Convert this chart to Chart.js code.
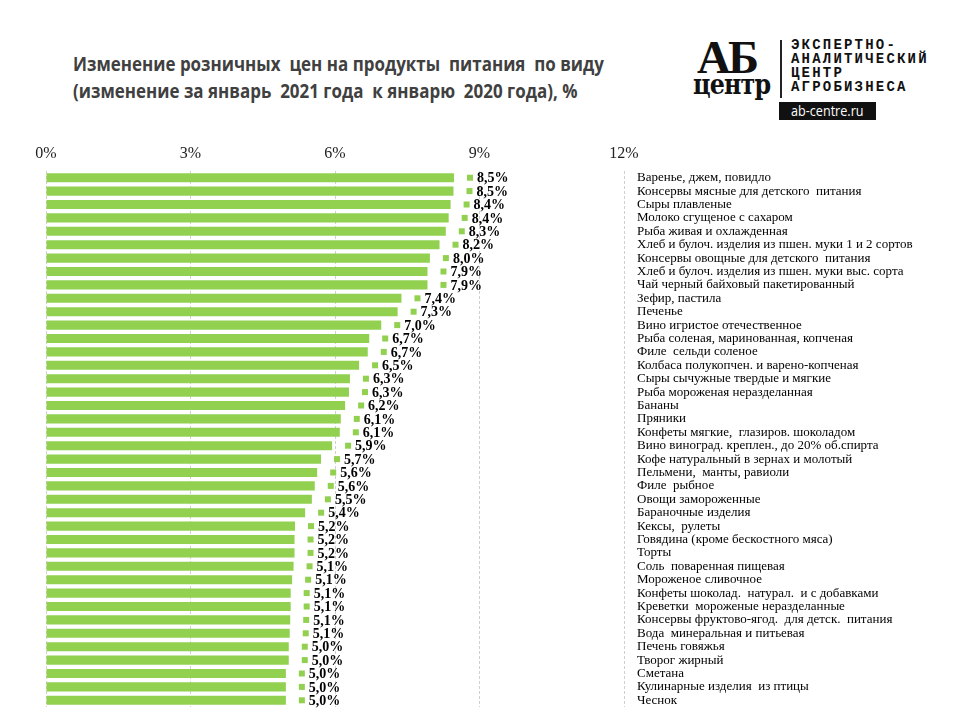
<!DOCTYPE html>
<html>
<head>
<meta charset="utf-8">
<script src="https://cdn.jsdelivr.net/npm/chart.js@4/dist/chart.umd.min.js"></script>
<style>
  body { margin: 0; width: 960px; height: 720px; background: #fff; position: relative; overflow: hidden; }
  #title { position: absolute; left: 73px; top: 51px; font-family: "Open Sans", sans-serif; font-weight: bold; font-size: 19px; line-height: 27px; color: #404040; white-space: pre; transform: scaleX(0.893); transform-origin: left top; }
  #logo { position: absolute; left: 690px; top: 36px; width: 250px; height: 88px; }
  #logo .ab { position: absolute; left: 7px; top: -6px; font-family: "Liberation Serif", serif; font-weight: bold; font-size: 47px; letter-spacing: -3px; color: #111; }
  #logo .centr { position: absolute; left: 3px; top: 32px; font-family: "DejaVu Serif", serif; font-weight: bold; font-size: 28px; letter-spacing: -1px; color: #111; transform: scaleX(0.85); transform-origin: left; }
  #logo .bar { position: absolute; left: 90px; top: 4px; width: 2px; height: 58px; background: #222; }
  #logo .txt { position: absolute; left: 101px; top: 2px; font-family: "Liberation Mono", monospace; font-weight: bold; font-size: 14px; line-height: 14px; letter-spacing: 2.2px; color: #111; }
  #logo .site { position: absolute; left: 89px; top: 66px; width: 97px; height: 18px; background: #111; color: #fff; font-family: "Open Sans", sans-serif; font-size: 14px; line-height: 18px; text-align: center; }
  #logo .site span { display: inline-block; transform: scaleX(0.9); }
  #wrap { position: absolute; left: 0; top: 130px; width: 960px; height: 590px; }
</style>
</head>
<body>
<div id="title">Изменение розничных  цен на продукты  питания  по виду
(изменение за январь  2021 года  к январю  2020 года), %</div>
<div id="logo">
  <div class="ab">АБ</div>
  <div class="centr">центр</div>
  <div class="bar"></div>
  <div class="txt">ЭКСПЕРТНО-<br>АНАЛИТИЧЕСКИЙ<br>ЦЕНТР<br>АГРОБИЗНЕСА</div>
  <div class="site"><span>ab-centre.ru</span></div>
</div>
<div id="wrap"><canvas id="grafico"></canvas></div>
<script>
const produtos = [
  'Варенье, джем, повидло',
  'Консервы мясные для детского  питания',
  'Сыры плавленые',
  'Молоко сгущеное с сахаром',
  'Рыба живая и охлажденная',
  'Хлеб и булоч. изделия из пшен. муки 1 и 2 сортов',
  'Консервы овощные для детского  питания',
  'Хлеб и булоч. изделия из пшен. муки выс. сорта',
  'Чай черный байховый пакетированный',
  'Зефир, пастила',
  'Печенье',
  'Вино игристое отечественное',
  'Рыба соленая, маринованная, копченая',
  'Филе  сельди соленое',
  'Колбаса полукопчен. и варено-копченая',
  'Сыры сычужные твердые и мягкие',
  'Рыба мороженая неразделанная',
  'Бананы',
  'Пряники',
  'Конфеты мягкие,  глазиров. шоколадом',
  'Вино виноград. креплен., до 20% об.спирта',
  'Кофе натуральный в зернах и молотый',
  'Пельмени,  манты, равиоли',
  'Филе  рыбное',
  'Овощи замороженные',
  'Бараночные изделия',
  'Кексы,  рулеты',
  'Говядина (кроме бескостного мяса)',
  'Торты',
  'Соль  поваренная пищевая',
  'Мороженое сливочное',
  'Конфеты шоколад.  натурал.  и с добавками',
  'Креветки  мороженые неразделанные',
  'Консервы фруктово-ягод.  для детск.  питания',
  'Вода  минеральная и питьевая',
  'Печень говяжья',
  'Творог жирный',
  'Сметана',
  'Кулинарные изделия  из птицы',
  'Чеснок'
];
const variacao = [
  8.47, 8.46, 8.40, 8.36, 8.30, 8.17, 7.97, 7.92, 7.92, 7.38,
  7.30, 6.96, 6.71, 6.68, 6.50, 6.31, 6.29, 6.21, 6.12, 6.10,
  5.94, 5.71, 5.63, 5.58, 5.52, 5.38, 5.17, 5.16, 5.16, 5.14,
  5.11, 5.08, 5.08, 5.07, 5.06, 5.04, 5.04, 4.98, 4.98, 4.98
];
const ticksX = [0, 3, 6, 9, 12];
const verde = '#92D050';

// rotulos de valor com o quadradinho verde
const rotulos = {
  id: 'rotulos',
  afterDatasetsDraw(chart) {
    const ctx = chart.ctx;
    const meta = chart.getDatasetMeta(0);
    ctx.save();
    ctx.font = 'bold 14px "Liberation Serif", serif';
    ctx.textBaseline = 'middle';
    meta.data.forEach((bar, i) => {
      const x = bar.x + 13;
      ctx.fillStyle = verde;
      ctx.fillRect(x, bar.y - 3, 6, 6);
      ctx.fillStyle = '#000';
      ctx.fillText(variacao[i].toFixed(1).replace('.', ',') + '%', x + 10, bar.y + 1);
    });
    ctx.restore();
  }
};

new Chart(document.getElementById('grafico'), {
  type: 'bar',
  data: {
    labels: produtos,
    datasets: [{
      data: variacao,
      backgroundColor: verde,
      barPercentage: 0.68,
      categoryPercentage: 1
    }]
  },
  options: {
    indexAxis: 'y',
    responsive: true,
    maintainAspectRatio: false,
    animation: false,
    layout: { padding: { left: 46, right: 0, top: 0, bottom: 13 } },
    plugins: { legend: { display: false }, tooltip: { enabled: false } },
    scales: {
      x: {
        position: 'top',
        min: 0,
        max: 12,
        afterBuildTicks: (scale) => { scale.ticks = ticksX.map(v => ({ value: v })); },
        afterFit: (scale) => { scale.height = 41; },
        ticks: {
          padding: 8,
          color: '#222',
          font: { family: '"Liberation Serif", serif', size: 16 },
          callback: (v) => v + '%'
        },
        grid: { color: '#cfcfcf', drawTicks: false },
        border: { display: false, dash: [3, 2] }
      },
      y: {
        position: 'right',
        afterFit: (scale) => { scale.width = 336; scale.paddingTop = 0; scale.paddingBottom = 0; },
        ticks: {
          padding: 5,
          autoSkip: false,
          color: '#000',
          font: { family: '"Liberation Serif", serif', size: 13 }
        },
        grid: { display: false },
        border: { display: false }
      }
    }
  },
  plugins: [rotulos]
});
</script>
</body>
</html>
